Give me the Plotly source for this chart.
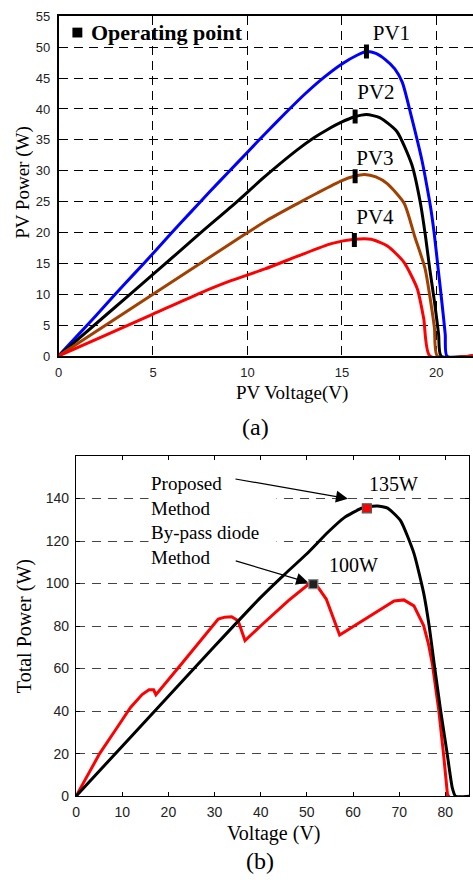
import plotly.graph_objects as go

# ---------------- data: (a) PV module curves ----------------
pv1_v = [0, 1, 2, 3, 4, 5, 6, 7, 8, 9, 10, 11, 12, 13, 14, 15, 15.8, 16.3, 16.8, 17.3, 17.8, 18.2, 18.7, 19.25, 19.5, 19.7, 19.9, 20.1, 20.3, 20.47, 20.56, 21.94]
pv1_p = [0, 3.3, 6.6, 10, 13.3, 16.6, 20, 23.3, 26.6, 29.8, 33, 36.2, 39.3, 42.3, 45, 47.3, 48.7, 49.3, 49, 48, 46.5, 44.3, 38.5, 31.5, 27.5, 24, 19.5, 14, 8.5, 3.5, 0, 0]

pv2_v = [0, 2.5, 5, 7.5, 9.3, 10.9, 12.6, 13.5, 14.2, 15, 15.65, 16.3, 17, 17.9, 18.7, 19.16, 19.42, 19.65, 19.9, 20.12, 20.25, 21.94]
pv2_p = [0, 6.6, 13.2, 19.9, 24.6, 29, 33.3, 35.3, 36.6, 37.9, 38.7, 39.1, 38.6, 36.4, 31, 24.7, 19.5, 14.1, 8.8, 3.5, 0, 0]

pv3_v = [0, 5, 9.66, 11, 12.6, 13.7, 15, 15.65, 16.2, 16.8, 17.4, 18.3, 18.85, 19.4, 19.7, 19.9, 20.05, 21.94]
pv3_p = [0, 10, 19.3, 21.9, 24.6, 26.4, 28.4, 29.1, 29.4, 29, 27.9, 24.7, 19.4, 14.2, 8.8, 4.5, 0, 0]

pv4_v = [0, 2.5, 5, 7.5, 9.13, 10.93, 12.69, 14.44, 15.66, 16.54, 17.41, 18.28, 18.99, 19.33, 19.65, 21.94]
pv4_p = [0, 3.4, 6.8, 10.2, 12.2, 14.1, 16.2, 18.2, 18.9, 18.9, 17.8, 15.2, 10.9, 6.1, 0, 0]

op_v = [16.3, 15.7, 15.7, 15.66]
op_p = [49.3, 38.8, 29.1, 18.8]
pv_names = ["PV1", "PV2", "PV3", "PV4"]
pv_label_v = [17.62, 16.8, 16.75, 16.75]
pv_label_p = [52.1, 42.5, 31.7, 22.3]

a_xticks = [0, 5, 10, 15, 20]
a_yticks = [0, 5, 10, 15, 20, 25, 30, 35, 40, 45, 50, 55]

# ---------------- data: (b) total power curves ----------------
prop_v = [0, 10, 20, 30, 40, 45, 50, 54.5, 58.1, 61.7, 63, 65.3, 67.5, 70.3, 73.2, 75.3, 76.5, 77.6, 79, 80.4, 81.5, 82.2, 85.2]
prop_p = [0, 23.5, 47, 70.5, 93.5, 104, 114, 124, 131, 135.3, 136, 136.5, 135.5, 129.6, 114.2, 95.6, 80, 62, 40, 20, 4, 0, 0]

byp_v = [0, 5.1, 8.5, 11.8, 14.3, 15.8, 16.8, 17.3, 23, 29.4, 30.8, 32.2, 33.7, 35.1, 36.6, 40.2, 43, 46, 50.3, 52, 54.2, 57.1, 63, 68.9, 71, 73.2, 75.3, 76.3, 77.2, 78.6, 79.6, 80.5, 81]
byp_p = [0, 20, 31, 41.7, 47.8, 50, 50, 47.7, 62.6, 79.4, 83.3, 84.2, 84.4, 82.5, 73.2, 80.5, 86, 92, 99.5, 99.5, 92.7, 75.8, 83.8, 91.8, 92.3, 89.5, 80.2, 72, 62, 40, 20, 0, 0]

mpp_prop = (63.0, 135.4)
mpp_byp = (51.4, 99.7)

b_xticks = [0, 10, 20, 30, 40, 50, 60, 70, 80]
b_yticks = [0, 20, 40, 60, 80, 100, 120, 140]

# ---------------- figure ----------------
W, H = 473, 888
SERIF = "Liberation Serif"
SANS = "Liberation Sans"


def px(x):
    return x / W


def py(y):
    return 1 - y / H


fig = go.Figure()

for v, p, c in [(pv1_v, pv1_p, "#0000FF"), (pv2_v, pv2_p, "#000000"),
                (pv3_v, pv3_p, "#A34000"), (pv4_v, pv4_p, "#FF0000")]:
    fig.add_trace(go.Scatter(x=v, y=p, mode="lines",
                             line=dict(color=c, width=3, shape="spline", smoothing=0.6),
                             xaxis="x", yaxis="y", showlegend=False, hoverinfo="skip"))

fig.add_trace(go.Scatter(x=op_v, y=op_p, mode="markers",
                         marker=dict(symbol="line-ns", size=10, line=dict(color="black", width=5)),
                         xaxis="x", yaxis="y", showlegend=False))

fig.add_trace(go.Scatter(x=pv_label_v, y=pv_label_p, mode="text", text=pv_names,
                         textfont=dict(family=SERIF, size=21, color="black"),
                         xaxis="x", yaxis="y", showlegend=False))

fig.add_trace(go.Scatter(x=byp_v, y=byp_p, mode="lines", line=dict(color="#FF0000", width=3),
                         xaxis="x2", yaxis="y2", showlegend=False))
fig.add_trace(go.Scatter(x=prop_v, y=prop_p, mode="lines",
                         line=dict(color="#000000", width=3, shape="spline", smoothing=0.5),
                         xaxis="x2", yaxis="y2", showlegend=False))

fig.add_trace(go.Scatter(x=[mpp_prop[0]], y=[mpp_prop[1]], mode="markers",
                         marker=dict(symbol="square", size=9, color="#FF0000",
                                     line=dict(color="#555555", width=1.2)),
                         xaxis="x2", yaxis="y2", showlegend=False))
fig.add_trace(go.Scatter(x=[mpp_byp[0]], y=[mpp_byp[1]], mode="markers",
                         marker=dict(symbol="square", size=9, color="#222222",
                                     line=dict(color="#888888", width=1.2)),
                         xaxis="x2", yaxis="y2", showlegend=False))

tickfont = dict(family=SANS, size=13, color="#222222")
tickfont_b = dict(family=SANS, size=14, color="#222222")

fig.update_layout(
    width=W, height=H,
    margin=dict(l=0, r=0, t=0, b=0),
    paper_bgcolor="white", plot_bgcolor="white",
    showlegend=False,
    xaxis=dict(domain=[px(55), 1.0], range=[0, 21.94], tickvals=a_xticks,
               showgrid=True, gridcolor="black", gridwidth=1, griddash="9px,6px",
               showline=True, linecolor="black", linewidth=1.5, mirror=True,
               zeroline=False, ticks="", ticklen=0, tickfont=tickfont, anchor="y",
               ticklabelstandoff=4),
    yaxis=dict(domain=[py(355), py(9.5)], range=[0, 55], tickvals=a_yticks,
               showgrid=True, gridcolor="black", gridwidth=1, griddash="9px,6px",
               showline=True, linecolor="black", linewidth=1.5,
               zeroline=False, ticks="", ticklen=0, tickfont=tickfont, anchor="x",
               ticklabelstandoff=4),
    xaxis2=dict(domain=[px(72.7), px(469.3)], range=[0, 85.2], tickvals=b_xticks,
                showgrid=False, showline=True, linecolor="black", linewidth=1.3,
                mirror="ticks", ticks="inside", ticklen=4, tickcolor="black",
                zeroline=False, tickfont=tickfont_b, anchor="y2",
                ticklabelstandoff=3),
    yaxis2=dict(domain=[py(802.7), py(456.7)], range=[0, 160], tickvals=b_yticks,
                showgrid=True, gridcolor="#444444", gridwidth=1, griddash="9px,7px",
                showline=True, linecolor="black", linewidth=1.3,
                mirror="ticks", ticks="inside", ticklen=4, tickcolor="black",
                zeroline=False, tickfont=tickfont_b, anchor="x2",
                ticklabelstandoff=3),
)

# legend-like "Operating point" entry
fig.add_shape(type="rect", xref="paper", yref="paper",
              x0=px(69), x1=px(79), y0=py(31), y1=py(21),
              fillcolor="black", line=dict(width=0))


def label(text, x, y, size, angle=0, bold=False):
    return dict(text=f"<b>{text}</b>" if bold else text, x=px(x), y=py(y),
                xref="paper", yref="paper", xanchor="center", yanchor="middle",
                textangle=angle, showarrow=False,
                font=dict(family=SERIF, size=size, color="black"))


ann = []
op = label("Operating point", 86, 26, 22, bold=True)
op["xanchor"] = "left"
ann.append(op)
ann.append(label("PV Power (W)", 19, 178, 19, angle=-90))
ann.append(label("PV Voltage(V)", 290, 393, 19))
ann.append(label("(a)", 254, 427, 24))
ann.append(label("Total Power (W)", 21, 630, 20, angle=-90))
ann.append(label("Voltage (V)", 272, 841, 20))
ann.append(label("(b)", 258, 869, 24))

ann.append(dict(text="Proposed<br>Method<br>By-pass diode<br>Method",
                x=px(145), y=py(471), xref="paper", yref="paper",
                xanchor="left", yanchor="top", align="left", showarrow=False,
                bgcolor="white", borderpad=2, width=123,
                font=dict(family=SERIF, size=19, color="black")))

ann.append(dict(text="", x=58.9, y=139.9, xref="x2", yref="y2",
                ax=-114, ay=-20, showarrow=True, arrowhead=2, arrowsize=2.0,
                arrowwidth=1.2, arrowcolor="black", standoff=0))
ann.append(dict(text="", x=50.3, y=100.5, xref="x2", yref="y2",
                ax=-74, ay=-22, showarrow=True, arrowhead=2, arrowsize=2.0,
                arrowwidth=1.2, arrowcolor="black", standoff=0))

ann.append(dict(text="135W", x=68.8, y=146.8, xref="x2", yref="y2", showarrow=False,
                xanchor="center", yanchor="middle",
                font=dict(family=SERIF, size=20, color="black")))
ann.append(dict(text="100W", x=60.2, y=108.8, xref="x2", yref="y2", showarrow=False,
                xanchor="center", yanchor="middle",
                font=dict(family=SERIF, size=20, color="black")))

fig.update_layout(annotations=ann)

fig.write_html("out.html", config={"displayModeBar": False},
               post_script="document.body.style.margin='0';document.body.style.overflow='hidden';")
